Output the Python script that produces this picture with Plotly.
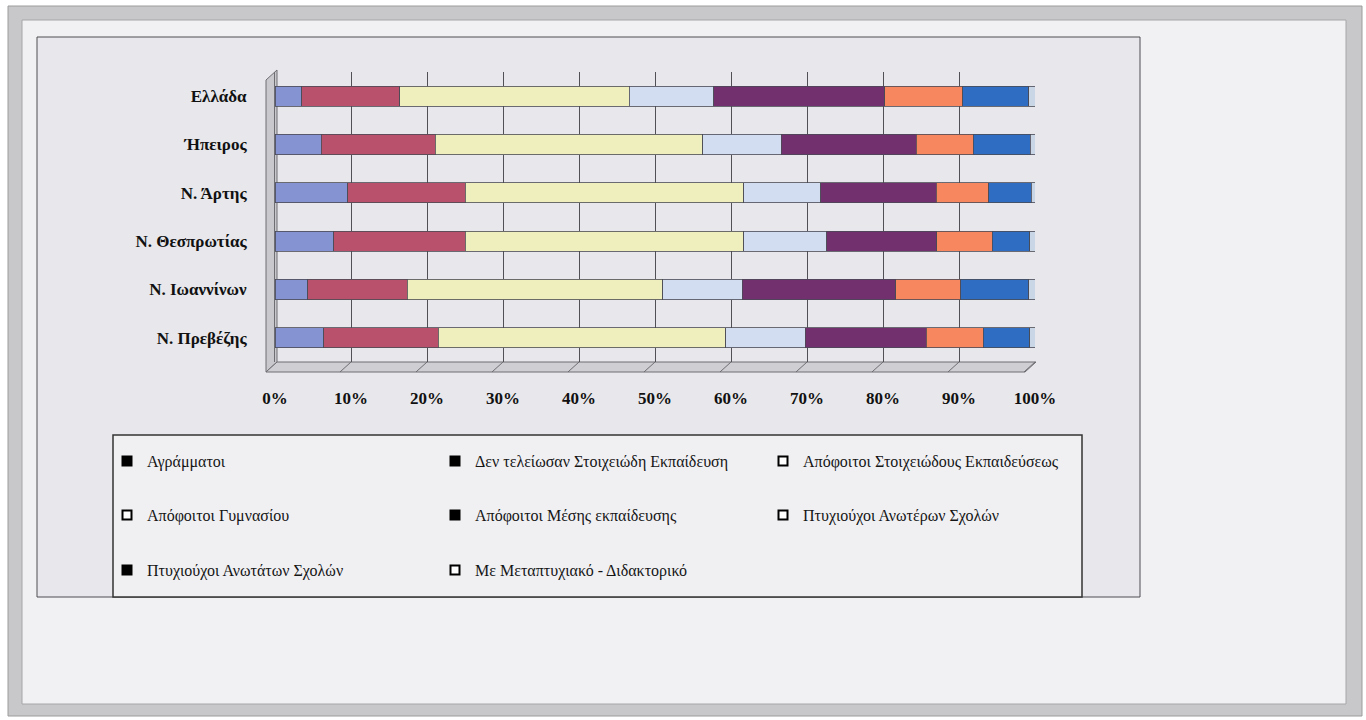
import plotly.graph_objects as go

categories = ["Ελλάδα", "Ήπειρος", "Ν. Άρτης", "Ν. Θεσπρωτίας", "Ν. Ιωαννίνων", "Ν. Πρεβέζης"]

series_names = [
    "Αγράμματοι",
    "Δεν τελείωσαν Στοιχειώδη Εκπαίδευση",
    "Απόφοιτοι Στοιχειώδους Εκπαιδεύσεως",
    "Απόφοιτοι Γυμνασίου",
    "Απόφοιτοι Μέσης εκπαίδευσης",
    "Πτυχιούχοι Ανωτέρων Σχολών",
    "Πτυχιούχοι Ανωτάτων Σχολών",
    "Με Μεταπτυχιακό - Διδακτορικό",
]

# percentages per category (same order as categories)
agrammatoi = [3.5, 6.1, 9.6, 7.7, 4.3, 6.4]
den_teleiosan = [12.9, 15.0, 15.4, 17.3, 13.1, 15.1]
stoixeiodous = [30.2, 35.2, 36.7, 36.7, 33.6, 37.8]
gymnasiou = [11.1, 10.3, 10.1, 10.9, 10.5, 10.5]
mesis = [22.5, 17.8, 15.2, 14.5, 20.2, 15.9]
anoteron = [10.3, 7.5, 6.9, 7.3, 8.5, 7.5]
anotaton = [8.7, 7.5, 5.6, 4.9, 9.0, 6.1]
metaptyxiako = [0.8, 0.7, 0.7, 0.8, 0.8, 0.7]

series_values = [agrammatoi, den_teleiosan, stoixeiodous, gymnasiou, mesis, anoteron, anotaton, metaptyxiako]
colors = ["#8593D2", "#B9506C", "#EFEFBE", "#D2DDF1", "#73306E", "#F7875F", "#2F6DC2", "#C9D6E6"]
legend_fill = ["#000000", "#000000", "#FFFFFF", "#FFFFFF", "#000000", "#FFFFFF", "#000000", "#FFFFFF"]
legend_rows = ["legend", "legend", "legend", "legend2", "legend2", "legend2", "legend3", "legend3"]

tick_vals = [0, 10, 20, 30, 40, 50, 60, 70, 80, 90, 100]
tick_text = ["0%", "10%", "20%", "30%", "40%", "50%", "60%", "70%", "80%", "90%", "100%"]

W, H = 1366, 720
def px(x):
    return x / W
def py(y):
    return 1 - y / H

SERIF = "Liberation Serif, Times New Roman, serif"

fig = go.Figure()
for name, vals, col in zip(series_names, series_values, colors):
    fig.add_trace(go.Bar(
        y=categories, x=vals, name=name, orientation="h",
        marker=dict(color=col, line=dict(color="#4a4a55", width=0.8)),
        showlegend=False,
    ))
for name, fill, lg in zip(series_names, legend_fill, legend_rows):
    fig.add_trace(go.Scatter(
        x=[None], y=[None], mode="markers", name=name, legend=lg,
        marker=dict(symbol="square", size=9, color=fill, line=dict(color="#000000", width=2)),
    ))

shapes = []
# outer grey frame
shapes.append(dict(type="rect", xref="paper", yref="paper", layer="below",
                   x0=px(8), x1=px(1362), y0=py(716), y1=py(6),
                   fillcolor="#C8C8CA", line=dict(color="#9C9C9C", width=1)))
shapes.append(dict(type="rect", xref="paper", yref="paper", layer="below",
                   x0=px(22), x1=px(1346), y0=py(704), y1=py(20),
                   fillcolor="#F1F1F4", line=dict(color="#A6A6A8", width=1)))
# chart area
shapes.append(dict(type="rect", xref="paper", yref="paper", layer="below",
                   x0=px(37), x1=px(1140), y0=py(597), y1=py(37),
                   fillcolor="#E8E8EC", line=dict(color="#4E4E52", width=1)))
# legend box
shapes.append(dict(type="rect", xref="paper", yref="paper", layer="below",
                   x0=px(113), x1=px(1082), y0=py(597), y1=py(435),
                   fillcolor="#F0F0F3", line=dict(color="#333333", width=1.5)))
# 3D left wall
shapes.append(dict(type="path", xref="paper", yref="paper", layer="below",
                   path=f"M {px(266)},{py(80)} L {px(277)},{py(70)} L {px(277)},{py(362)} L {px(266)},{py(372)} Z",
                   fillcolor="#C9C9CD", line=dict(color="#6E6E72", width=1)))
# 3D floor
shapes.append(dict(type="path", xref="paper", yref="paper", layer="below",
                   path=f"M {px(277)},{py(362)} L {px(1036)},{py(362)} L {px(1025)},{py(372)} L {px(266)},{py(372)} Z",
                   fillcolor="#CFCFD3", line=dict(color="#6E6E72", width=1)))
# gridline continuations across the 3D floor
for v in tick_vals:
    shapes.append(dict(type="line", xref="x", yref="paper", layer="above",
                       x0=v, x1=v - 1.45, y0=py(362), y1=py(372),
                       line=dict(color="#6E6E72", width=1)))

legend_common = dict(orientation="h", xanchor="left", yanchor="middle",
                     bgcolor="rgba(0,0,0,0)", borderwidth=0, traceorder="normal",
                     font=dict(family=SERIF, size=16, color="#151515"),
                     entrywidth=283, entrywidthmode="pixels", itemwidth=30)

fig.update_layout(
    width=W, height=H,
    margin=dict(l=0, r=0, t=0, b=0, pad=0, autoexpand=False),
    paper_bgcolor="#FFFFFF",
    plot_bgcolor="#DADADE",
    barmode="stack",
    bargap=0.58,
    shapes=shapes,
    xaxis=dict(domain=[px(275), px(1035)], range=[0, 100], tickvals=tick_vals, ticktext=tick_text,
               showgrid=True, gridcolor="#505056", gridwidth=1, zeroline=False,
               showline=False, ticks="", ticklabelstandoff=24,
               tickfont=dict(family=SERIF, size=17, color="#111111", weight="bold"), fixedrange=True),
    yaxis=dict(domain=[py(362), py(72)], autorange="reversed", showgrid=False, zeroline=False,
               ticks="", ticklabelstandoff=24, showline=True, linecolor="#6E6E72",
               tickfont=dict(family=SERIF, size=17, color="#111111", weight="bold"), fixedrange=True),
    legend=dict(x=px(107), y=py(461), **legend_common),
    legend2=dict(x=px(107), y=py(515), **legend_common),
    legend3=dict(x=px(107), y=py(570), **legend_common),
)

fig.write_html(
    "out.html",
    config=dict(displayModeBar=False),
    post_script="document.body.style.margin='0';document.body.style.padding='0';document.body.style.overflow='hidden';document.documentElement.style.overflow='hidden';",
)
